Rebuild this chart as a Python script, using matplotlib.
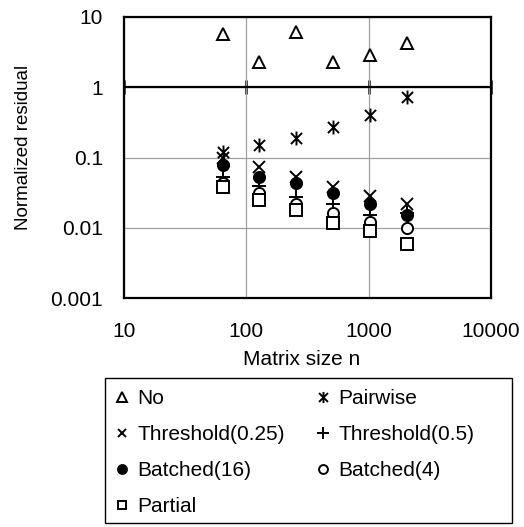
"""
Normalized residual vs matrix size (log-log scatter, Excel style).
"""
import matplotlib
matplotlib.use("Agg")
import matplotlib.pyplot as plt
from matplotlib.path import Path
from matplotlib.patches import Rectangle
from matplotlib.ticker import FixedLocator, FuncFormatter, NullLocator

plt.rcParams['font.family'] = ['Liberation Sans', 'DejaVu Sans']

# Data ---------------------------------------------------------------------
n_sizes = [64, 128, 256, 512, 1024, 2048]
res_no = [5.8, 2.3, 6.1, 2.3, 2.9, 4.2]
res_pairwise = [0.12, 0.15, 0.19, 0.27, 0.40, 0.72]
res_thr025 = [0.10, 0.074, 0.053, 0.038, 0.028, 0.0215]
res_thr05 = [0.053, 0.039, 0.0275, 0.0217, 0.015, 0.016]
res_b16 = [0.078, 0.053, 0.043, 0.0316, 0.022, 0.015]
res_b4 = [0.044, 0.0316, 0.022, 0.0163, 0.0122, 0.0098]
res_partial = [0.0375, 0.0247, 0.0178, 0.0118, 0.0089, 0.0058]

x_ticks = [10, 100, 1000, 10000]
y_ticks = [0.001, 0.01, 0.1, 1, 10]

# six-armed asterisk marker
star = Path([(-1, -1), (1, 1), (-1, 1), (1, -1), (0, -1.25), (0, 1.25)],
            [Path.MOVETO, Path.LINETO, Path.MOVETO, Path.LINETO, Path.MOVETO, Path.LINETO])

W, H = 524, 527

# Figure -------------------------------------------------------------------
fig = plt.figure(figsize=(W / 100, H / 100), dpi=100)
ax = fig.add_axes([124 / W, 1 - 298 / H, 367 / W, 281 / H])
ax.set_xscale('log')
ax.set_yscale('log')
ax.set_xlim(10, 10000)
ax.set_ylim(0.001, 10)

kw = dict(linestyle='none', color='black', markeredgewidth=1.4)
h_no, = ax.plot(n_sizes, res_no, marker='^', markersize=9, markerfacecolor='white', label='No', **kw)
h_pw, = ax.plot(n_sizes, res_pairwise, marker=star, markersize=10, markerfacecolor='none', label='Pairwise', **kw)
h_t25, = ax.plot(n_sizes, res_thr025, marker='x', markersize=8, label='Threshold(0.25)', **kw)
h_t05, = ax.plot(n_sizes, res_thr05, marker='+', markersize=10, label='Threshold(0.5)', **kw)
h_b16, = ax.plot(n_sizes, res_b16, marker='o', markersize=8, markerfacecolor='black', label='Batched(16)', **kw)
h_b4, = ax.plot(n_sizes, res_b4, marker='o', markersize=8, markerfacecolor='white', label='Batched(4)', **kw)
h_p, = ax.plot(n_sizes, res_partial, marker='s', markersize=8, markerfacecolor='white', label='Partial', **kw)

for a in (ax.xaxis, ax.yaxis):
    a.set_minor_locator(NullLocator())
    a.set_major_formatter(FuncFormatter(lambda v, p: '%g' % v))
ax.xaxis.set_major_locator(FixedLocator(x_ticks))
ax.yaxis.set_major_locator(FixedLocator(y_ticks))
ax.tick_params(axis='both', length=0, labelsize=15)
ax.tick_params(axis='x', pad=17)
ax.tick_params(axis='y', pad=15)
ax.grid(True, color='#a0a0a0', linewidth=0.9)
ax.set_axisbelow(True)
for s in ax.spines.values():
    s.set_linewidth(1.6)
    s.set_color('black')

# horizontal axis crossing at y = 1
ax.axhline(1, color='black', linewidth=1.6, zorder=1.5)
sec = ax.secondary_xaxis(0.75)
sec.set_xscale('log')
sec.xaxis.set_major_locator(FixedLocator(x_ticks))
sec.xaxis.set_minor_locator(NullLocator())
sec.tick_params(direction='inout', length=10, width=1.8, color='black',
                labeltop=False, labelbottom=False)
for s in sec.spines.values():
    s.set_visible(False)

ax.set_xlabel('Matrix size n', fontsize=15)
ax.xaxis.set_label_coords(0.485, -0.185)
ax.set_ylabel('Normalized residual', fontsize=13.5)
ax.yaxis.set_label_coords(-0.25, 0.537)

# Legend: two columns in one black box --------------------------------------
fig.patches.append(Rectangle((105 / W, 4 / H), 407 / W, 145 / H, transform=fig.transFigure,
                             facecolor='white', edgecolor='black', linewidth=1.0, zorder=0))
leg_kw = dict(loc='upper left', borderaxespad=0, borderpad=0, fontsize=15,
              markerscale=0.8, handlelength=0.8, handletextpad=0.32,
              labelspacing=0.82, frameon=False)
col1 = [h_no, h_t25, h_b16, h_p]
col2 = [h_pw, h_t05, h_b4]
leg1 = fig.legend(handles=col1, labels=[h.get_label() for h in col1],
                  bbox_to_anchor=(113.7 / W, 1 - 389 / H), **leg_kw)
leg2 = fig.legend(handles=col2, labels=[h.get_label() for h in col2],
                  bbox_to_anchor=(314.7 / W, 1 - 389 / H), **leg_kw)

fig.savefig('out.png', dpi=100)
